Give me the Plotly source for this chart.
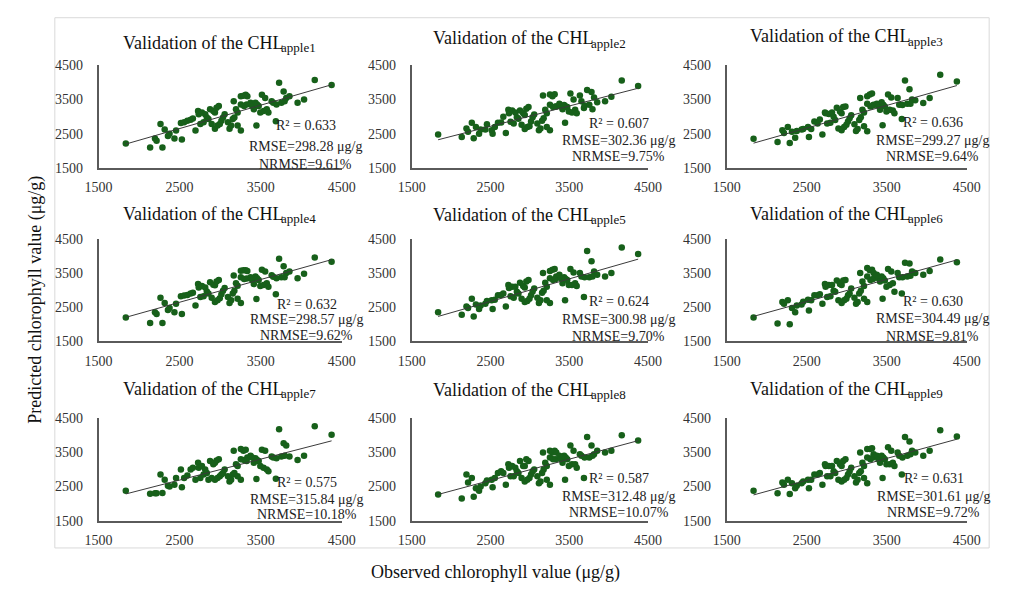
import numpy as np
import plotly.graph_objects as go

W, H = 1009, 592

# ---------------- data ----------------
OBSERVED = [1836, 2136, 2288, 2196, 2216, 2264, 2316, 2376, 2356, 2436, 2456, 2528, 2516, 2556, 2596, 2636,
            2664, 2696, 2728, 2736, 2756, 2796, 2776, 2816, 2836, 2856, 2876, 2916, 2936, 2956, 2984, 2896,
            2936, 2968, 2996, 3016, 3036, 3056, 3096, 3116, 3136, 3156, 3176, 3168, 3196, 3216, 3256, 3288,
            3316, 3336, 3256, 3296, 3328, 3256, 3216, 3376, 3396, 3416, 3436, 3456, 3476, 3448, 3516, 3556,
            3496, 3536, 3576, 3596, 3636, 3656, 3688, 3728, 3696, 3756, 3784, 3816, 3856, 3796, 3956, 4036,
            4168, 4376]

PRED_1 = [2216, 2092, 2092, 2358, 2292, 2787, 2625, 2501, 2434, 2358, 2596, 2330, 2815, 2834, 2882, 2910,
          2948, 2596, 3167, 3072, 2787, 2834, 3120, 3072, 2977, 2929, 3215, 3167, 3120, 3263, 3310, 2787,
          2644, 2739, 2787, 2882, 2977, 3072, 2834, 2644, 2739, 2929, 2977, 3453, 3215, 3120, 3596, 3615,
          3643, 3596, 3358, 3310, 3358, 2596, 2739, 3405, 3310, 3215, 3405, 3358, 3310, 2739, 3643, 3548,
          3120, 3167, 3215, 3120, 3453, 3405, 2863, 3996, 3358, 3405, 3739, 3548, 3596, 3453, 3405, 3500,
          4072, 3929]
PRED_2 = [2480, 2400, 2370, 2650, 2560, 2820, 2700, 2620, 2500, 2620, 2780, 2500, 2600, 2700, 2820, 2830,
          3000, 2520, 3200, 3100, 2850, 2800, 3180, 3120, 2980, 2940, 3180, 3100, 3050, 3230, 3280, 2760,
          2640, 2700, 2720, 2860, 2980, 3060, 2800, 2600, 2650, 2880, 2950, 3620, 3200, 3100, 3650, 3600,
          3660, 3300, 3350, 3280, 3300, 2600, 2700, 3380, 3300, 3220, 3340, 3300, 3280, 2820, 3680, 3500,
          3150, 3120, 3200, 3100, 3620, 3450, 3250, 3780, 3330, 3350, 3720, 3560, 3420, 3220, 3450, 3580,
          4060, 3900]
PRED_3 = [2350, 2260, 2230, 2600, 2520, 2700, 2560, 2580, 2380, 2620, 2640, 2400, 2700, 2640, 2860, 2800,
          2920, 2480, 3120, 3100, 2800, 2820, 3080, 3120, 3000, 2900, 3260, 3150, 3100, 3280, 3300, 2650,
          2600, 2700, 2760, 2860, 2950, 3040, 2780, 2580, 2640, 2900, 2980, 3550, 3200, 3120, 3600, 3650,
          3680, 3350, 3380, 3300, 3330, 2570, 2720, 3380, 3320, 3200, 3420, 3350, 3300, 2750, 3650, 3560,
          3150, 3200, 3180, 3100, 3550, 3350, 2930, 4060, 3340, 3380, 3800, 3500, 3480, 3380, 3400, 3550,
          4230, 4030]
PRED_4 = [2200, 2040, 2040, 2350, 2300, 2780, 2620, 2480, 2420, 2350, 2600, 2300, 2820, 2840, 2860, 2900,
          2920, 2550, 3180, 3080, 2800, 2820, 3120, 3080, 2960, 2900, 3230, 3160, 3140, 3250, 3300, 2780,
          2650, 2700, 2760, 2880, 2980, 3060, 2800, 2620, 2700, 2900, 2980, 3430, 3200, 3130, 3570, 3580,
          3580, 3560, 3380, 3330, 3340, 2620, 2750, 3380, 3300, 3180, 3400, 3350, 3300, 2740, 3600, 3550,
          3120, 3150, 3200, 3100, 3440, 3390, 2880, 3920, 3350, 3380, 3700, 3500, 3550, 3380, 3350, 3480,
          3960, 3830]
PRED_5 = [2350, 2280, 2230, 2520, 2480, 2750, 2580, 2550, 2450, 2600, 2680, 2450, 2700, 2720, 2850, 2860,
          2900, 2520, 3150, 3060, 2820, 2780, 3100, 3100, 2950, 2900, 3220, 3120, 3080, 3250, 3300, 2750,
          2650, 2680, 2750, 2850, 2960, 3050, 2780, 2620, 2700, 2920, 2980, 3500, 3220, 3100, 3560, 3600,
          3620, 3400, 3350, 3300, 3330, 2620, 2700, 3450, 3350, 3200, 3380, 3330, 3300, 2700, 3620, 3520,
          3150, 3150, 3200, 3120, 3500, 3400, 2800, 4150, 3380, 3380, 3850, 3550, 3450, 3400, 3400, 3500,
          4250, 4060]
PRED_6 = [2200, 2020, 2000, 2650, 2600, 2700, 2480, 2550, 2350, 2580, 2660, 2400, 2720, 2700, 2850, 2850,
          2880, 2600, 3180, 3100, 2800, 2820, 3150, 3150, 2980, 2950, 3280, 3180, 3150, 3280, 3300, 2700,
          2620, 2700, 2750, 2850, 2900, 3050, 2780, 2600, 2650, 2900, 2980, 3500, 3250, 3120, 3650, 3580,
          3600, 3500, 3400, 3300, 3330, 2650, 2750, 3450, 3350, 3250, 3400, 3350, 3280, 2750, 3620, 3550,
          3100, 3150, 3200, 2950, 3500, 3380, 2900, 3800, 3380, 3400, 3780, 3550, 3500, 3420, 3450, 3560,
          3900, 3820]
PRED_7 = [2380, 2290, 2310, 2300, 2300, 2850, 2700, 2500, 2520, 2550, 2750, 2480, 3000, 2750, 2820, 3000,
          3050, 2700, 3200, 3050, 2750, 2850, 3100, 3000, 2900, 2700, 3250, 3150, 3200, 3260, 3300, 2750,
          2700, 2750, 2800, 2850, 2900, 3000, 2800, 2650, 2700, 2850, 2900, 3550, 3150, 3100, 3600, 3550,
          3580, 3350, 3300, 3280, 3250, 2700, 2800, 3400, 3350, 3200, 3330, 3280, 3250, 2720, 3580, 3550,
          3100, 3050, 3000, 2950, 3380, 3350, 2730, 4180, 3330, 3380, 3770, 3700, 3380, 3400, 3280, 3400,
          4270, 4020]
PRED_8 = [2270, 2150, 2200, 2850, 2620, 2750, 2450, 2500, 2380, 2600, 2680, 2480, 2700, 2750, 2900, 2950,
          2900, 2550, 3150, 3050, 2800, 2800, 3100, 3050, 2950, 2900, 3250, 3100, 3100, 3300, 3250, 2750,
          2650, 2700, 2750, 2850, 2950, 3000, 2800, 2600, 2650, 2900, 3000, 3500, 3200, 3100, 3550, 3500,
          3550, 3500, 3350, 3300, 3300, 2550, 2700, 3400, 3300, 3200, 3400, 3350, 3300, 2700, 3700, 3550,
          3100, 3150, 3150, 3050, 3450, 3400, 2750, 3950, 3350, 3350, 3700, 3450, 3550, 3400, 3500, 3550,
          4000, 3850]
PRED_9 = [2380, 2300, 2280, 2620, 2550, 2700, 2600, 2520, 2450, 2600, 2650, 2450, 2700, 2700, 2850, 2850,
          2900, 2550, 3150, 3100, 2800, 2800, 3100, 3100, 2950, 2900, 3250, 3150, 3100, 3250, 3300, 2700,
          2650, 2700, 2750, 2850, 2950, 3050, 2800, 2620, 2700, 2900, 2950, 3500, 3200, 3100, 3600, 3600,
          3620, 3450, 3350, 3300, 3350, 2600, 2750, 3400, 3300, 3200, 3400, 3350, 3300, 2750, 3650, 3550,
          3150, 3150, 3200, 3100, 3500, 3400, 2850, 3950, 3350, 3400, 3820, 3550, 3500, 3450, 3400, 3550,
          4150, 3970]

PREDICTED = [PRED_1, PRED_2, PRED_3, PRED_4, PRED_5, PRED_6, PRED_7, PRED_8, PRED_9]
TITLE_MAIN = "Validation of the CHL"
SUBSCRIPTS = ["apple1", "apple2", "apple3", "apple4", "apple5", "apple6", "apple7", "apple8", "apple9"]
R2 = ["0.633", "0.607", "0.636", "0.632", "0.624", "0.630", "0.575", "0.587", "0.631"]
RMSE = ["298.28", "302.36", "299.27", "298.57", "300.98", "304.49", "315.84", "312.48", "301.61"]
NRMSE = ["9.61", "9.75", "9.64", "9.62", "9.70", "9.81", "10.18", "10.07", "9.72"]
TICKS = [1500, 2500, 3500, 4500]
AX_RANGE = [1500, 4500]

# ---------------- layout geometry (pixels) ----------------
COL_PX = [(87, 337), (409, 652), (733, 980)]
ROW_PX = [(60, 165), (238, 343), (422, 527)]
TITLE_Y = [37, 32, 30, 212, 213, 212, 392, 393, 392]
STAT_X = [300, 622, 945, 301, 622, 945, 301, 622, 946]
STAT_Y = [(122, 143, 162), (120, 137, 153), (118, 137, 153),
          (305, 321, 337), (302, 321, 338), (302, 320, 338),
          (488, 505, 521), (484, 502, 519), (484, 502, 519)]

FONT = "Liberation Serif, Times New Roman, serif"
GREEN = "#17601a"


def px_x(p):
    return p / W


def px_y(p):
    return 1 - p / H


fig = go.Figure()
annotations = []
layout_axes = {}

for i in range(9):
    r, c = divmod(i, 3)
    n = i + 1
    xa = "x" if n == 1 else f"x{n}"
    ya = "y" if n == 1 else f"y{n}"
    obs = np.array(OBSERVED, dtype=float)
    pred = np.array(PREDICTED[i], dtype=float)
    assert len(obs) == len(pred)

    fig.add_trace(go.Scatter(x=obs, y=pred, mode="markers", xaxis=xa, yaxis=ya,
                             marker=dict(color=GREEN, size=6.5, line=dict(width=0)),
                             showlegend=False, hoverinfo="x+y"))
    slope, icpt = np.polyfit(obs, pred, 1)
    lx = np.array([obs.min(), obs.max()])
    fig.add_trace(go.Scatter(x=lx, y=slope * lx + icpt, mode="lines", xaxis=xa, yaxis=ya,
                             line=dict(color="#3a3a3a", width=1), showlegend=False, hoverinfo="skip"))

    x0, x1 = COL_PX[c]
    y0, y1 = ROW_PX[r]
    axis_common = dict(range=AX_RANGE, tickvals=TICKS, showgrid=False, zeroline=False,
                       showline=True, linecolor="#5a5a5a", linewidth=1.5, ticks="",
                       tickfont=dict(family=FONT, size=14, color="#333333"), fixedrange=True)
    layout_axes["xaxis" if n == 1 else f"xaxis{n}"] = dict(
        axis_common, domain=[px_x(x0), px_x(x1)], anchor=ya, ticklabelstandoff=6)
    layout_axes["yaxis" if n == 1 else f"yaxis{n}"] = dict(
        axis_common, domain=[px_y(y1), px_y(y0)], anchor=xa, ticklabelstandoff=11)

    # panel title: main text + subscript as two annotations meeting at a split point
    split = (x0 + x1) / 2 + 66
    annotations.append(dict(
        text=TITLE_MAIN, xref="paper", yref="paper", borderpad=0,
        x=px_x(split), y=px_y(TITLE_Y[i]), xanchor="right", yanchor="middle",
        showarrow=False, font=dict(family=FONT, size=18, color="#111111")))
    annotations.append(dict(
        text=SUBSCRIPTS[i], xref="paper", yref="paper", borderpad=0, xshift=-4,
        x=px_x(split), y=px_y(TITLE_Y[i] + 5), xanchor="left", yanchor="middle",
        showarrow=False, font=dict(family=FONT, size=13, color="#111111")))
    # statistics
    lines = [f"R² = {R2[i]}", f"RMSE={RMSE[i]} μg/g", f"NRMSE={NRMSE[i]}%"]
    for txt, yy in zip(lines, STAT_Y[i]):
        annotations.append(dict(
            text=txt, xref="paper", yref="paper", x=px_x(STAT_X[i]), y=px_y(yy),
            xanchor="center", yanchor="middle", showarrow=False,
            font=dict(family=FONT, size=14, color="#222222")))

# global axis titles
annotations.append(dict(text="Predicted chlorophyll value (μg/g)", xref="paper", yref="paper",
                        x=px_x(22), y=px_y(300), textangle=-90, xanchor="center", yanchor="middle",
                        showarrow=False, font=dict(family=FONT, size=18, color="#111111")))
annotations.append(dict(text="Observed chlorophyll value (μg/g)", xref="paper", yref="paper",
                        x=px_x(495), y=px_y(580), xanchor="center", yanchor="middle",
                        showarrow=False, font=dict(family=FONT, size=18, color="#111111")))

fig.update_layout(
    width=W, height=H, margin=dict(l=0, r=0, t=0, b=0),
    paper_bgcolor="white", plot_bgcolor="white",
    annotations=annotations,
    shapes=[dict(type="rect", xref="paper", yref="paper",
                 x0=px_x(42), x1=px_x(1003), y0=px_y(555), y1=px_y(11),
                 line=dict(color="#d9d9d9", width=1), fillcolor="rgba(0,0,0,0)", layer="below")],
    **layout_axes,
)

fig.write_html("out.html")
